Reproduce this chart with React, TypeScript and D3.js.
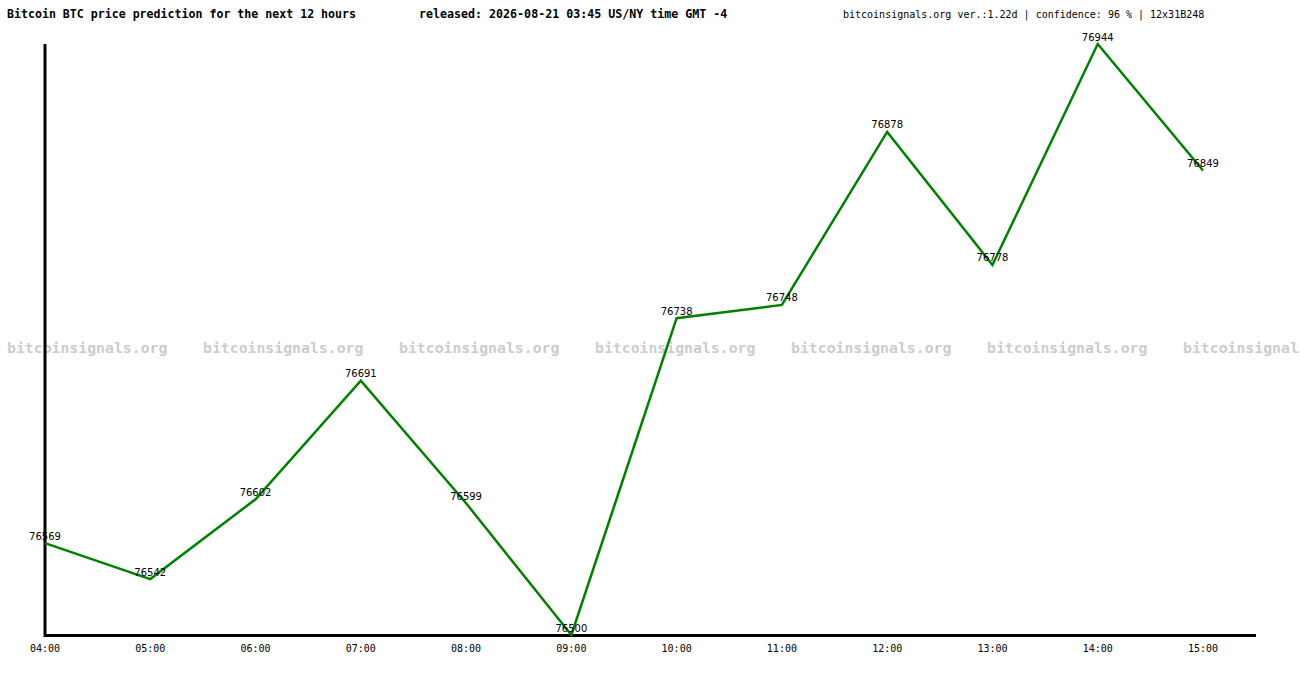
import React from "react";
import * as d3 from "d3";

const hours = ["04:00", "05:00", "06:00", "07:00", "08:00", "09:00", "10:00", "11:00", "12:00", "13:00", "14:00", "15:00"];
const prices = [76569, 76542, 76602, 76691, 76599, 76500, 76738, 76748, 76878, 76778, 76944, 76849];
const title = "Bitcoin BTC price prediction for the next 12 hours";
const released = "released: 2026-08-21 03:45 US/NY time GMT -4";
const info = "bitcoinsignals.org ver.:1.22d | confidence: 96 % | 12x31B248";
const watermark = "bitcoinsignals.org";

const App: React.FC = () => {
  const width = 1300;
  const height = 680;
  const mono = "'DejaVu Sans Mono', 'Liberation Mono', monospace";

  const x = d3.scalePoint<string>().domain(hours).range([45, 1203]);
  const [lo, hi] = d3.extent(prices) as [number, number];
  const y = d3.scaleLinear().domain([lo, hi]).range([635, 44]);

  const line = d3
    .line<number>()
    .x((_, i) => x(hours[i])!)
    .y((d) => y(d));

  // watermark repeats across the middle
  const marks = d3.range(7, width, 196);

  return (
    <svg
      width={width}
      height={height}
      style={{ position: "absolute", left: 0, top: 0, background: "#fff" }}
    >
      {marks.map((mx) => (
        <text
          key={mx}
          x={mx}
          y={353}
          fontFamily={mono}
          fontWeight="bold"
          fontSize={14.8}
          fill="#cccccc"
        >
          {watermark}
        </text>
      ))}

      <text x={7} y={18} fontFamily={mono} fontWeight="bold" fontSize={11.6} fill="#000">
        {title}
      </text>
      <text x={419} y={18} fontFamily={mono} fontWeight="bold" fontSize={11.65} fill="#000">
        {released}
      </text>
      <text x={843} y={18} fontFamily={mono} fontSize={10} fill="#000">
        {info}
      </text>

      {/* axes */}
      <line x1={45} y1={44} x2={45} y2={637} stroke="#000" strokeWidth={3} />
      <line x1={44} y1={635.5} x2={1256} y2={635.5} stroke="#000" strokeWidth={3} />

      {hours.map((h) => (
        <text
          key={h}
          x={x(h)}
          y={652}
          textAnchor="middle"
          fontFamily={mono}
          fontSize={10}
          fill="#000"
        >
          {h}
        </text>
      ))}

      <path d={line(prices) ?? ""} fill="none" stroke="#008000" strokeWidth={2.5} />

      {prices.map((p, i) => (
        <text
          key={i}
          x={x(hours[i])}
          y={y(p) - 3.5}
          textAnchor="middle"
          fontFamily="'DejaVu Sans', sans-serif"
          fontSize={10}
          fill="#000"
        >
          {p}
        </text>
      ))}
    </svg>
  );
};

export default App;
